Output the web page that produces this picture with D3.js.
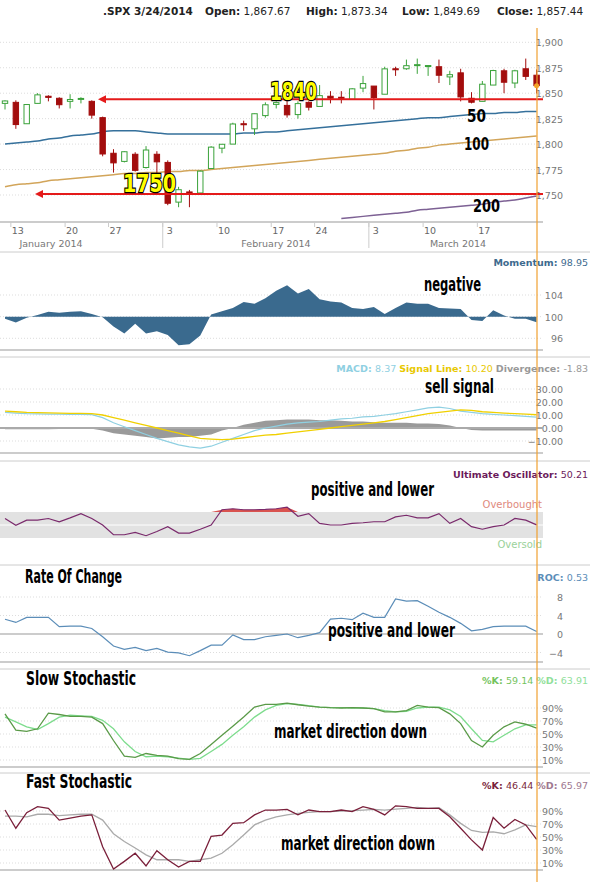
<!DOCTYPE html>
<html><head><meta charset="utf-8">
<script src="https://cdn.jsdelivr.net/npm/d3@7"></script>
<style>
body{margin:0;background:#fff}
svg{font-family:"DejaVu Sans",sans-serif}
.ann{font-family:"DejaVu Sans",sans-serif;font-weight:bold;fill:#000}
</style></head><body>
<div id="chart"></div>
<script>
// DATA (one value per trading day, Jan 10 .. Mar 24 2014)
const dates = ["1/10","1/13","1/14","1/15","1/16","1/17","1/21","1/22","1/23","1/24","1/27","1/28","1/29","1/30","1/31",
  "2/3","2/4","2/5","2/6","2/7","2/10","2/11","2/12","2/13","2/14","2/18","2/19","2/20","2/21","2/24","2/25","2/26","2/27","2/28",
  "3/3","3/4","3/5","3/6","3/7","3/10","3/11","3/12","3/13","3/14","3/17","3/18","3/19","3/20","3/21","3/24"]
const open  = [1840,1841,1820,1840,1847,1845,1842,1844,1842,1826,1791,1783,1790,1777,1790,1782,1743,1753,1752,1776,1796,1800,1820,1815,1828,1839,1838,1829,1841,1837,1847,1846,1844,1855,1857,1849,1874,1874,1878,1877,1876,1866,1870,1845,1842,1858,1872,1860,1874,1867.67]
const high  = [1843,1843,1839,1850,1848,1846,1849,1846,1843,1827,1795,1793,1792,1798,1793,1784,1758,1755,1774,1798,1800,1821,1823,1830,1841,1842,1847,1842,1842,1858,1852,1852,1855,1867,1857,1876,1876,1883,1884,1877,1883,1872,1874,1851,1862,1873,1874,1873,1884,1873.34]
const low   = [1834,1815,1820,1840,1842,1835,1835,1840,1825,1788,1772,1782,1773,1776,1768,1740,1738,1738,1750,1776,1791,1800,1813,1809,1826,1835,1826,1825,1833,1837,1840,1840,1844,1851,1834,1849,1867,1873,1869,1867,1860,1858,1842,1840,1842,1858,1850,1855,1863,1849.69]
const close = [1842.37,1819.20,1838.88,1848.38,1845.89,1838.70,1843.80,1844.86,1828.46,1790.29,1781.56,1792.50,1774.20,1794.19,1782.59,1741.89,1755.20,1751.64,1773.43,1797.02,1799.84,1819.75,1819.26,1829.83,1838.63,1840.76,1828.75,1839.78,1836.25,1847.61,1845.12,1845.16,1854.29,1859.45,1845.73,1873.91,1873.81,1877.03,1878.04,1877.17,1867.63,1868.20,1846.34,1841.13,1858.83,1872.25,1860.77,1872.01,1866.52,1857.44]
const ma50  = [1800,1801,1802,1803,1805,1806,1808,1809,1810,1812,1813,1813,1813,1812,1811,1810,1810,1810,1810,1810,1810,1810,1811,1811,1812,1812,1813,1814,1815,1816,1817,1818,1819,1820,1821,1822,1823,1824,1825,1826,1826,1827,1828,1829,1830,1830,1831,1831,1832,1832]
const ma100 = [1758,1760,1761,1762,1764,1765,1766,1767,1768,1769,1770,1771,1771,1772,1772,1773,1773,1774,1774,1775,1776,1777,1778,1779,1780,1781,1782,1783,1784,1785,1786,1787,1788,1789,1790,1791,1793,1794,1796,1797,1799,1800,1801,1802,1803,1804,1805,1806,1807,1808]
const ma200 = [null,null,null,null,null,null,null,null,null,null,null,null,null,null,null,null,null,null,null,null,null,null,null,null,null,null,null,null,null,null,null,1727,1728,1729,1730,1731,1732,1733,1735,1736,1737,1738,1739,1740,1741,1743,1744,1745,1747,1749]
const momentum = [99.6,98.9,99.8,100.3,100.9,100.7,100.9,101,100.5,99.9,98.2,96.9,98.7,96.9,97.3,96.6,94.7,94.9,96.5,100.4,101,101.6,102.7,102.4,103.4,104.8,105.8,104.3,105.1,103.2,102.8,102.6,101.6,101.4,101.8,100.5,101.6,102.6,102.4,102.4,101.6,101.5,101.4,99.4,99.2,101.2,100.2,99.6,99.6,98.95]
const macd   = [12,11.5,11,10.8,10.7,10.6,10.5,10.5,10.3,8,4,1,-2,-5,-8,-10.5,-13,-14.5,-15.5,-14,-11,-8,-5,-2,0,1.5,3,4,4.5,5,6,7,7.5,8.5,9,10,11,12.5,14,15.5,16,15,13,12,11,10.5,10,9.5,9,8.37]
const signal = [13,12.5,12,11.8,11.6,11.5,11.3,11.2,11,10,8,6,4,2,0,-2,-4,-6,-8,-8.5,-9,-8.5,-7.5,-6.5,-5.5,-5,-4,-3,-2,-1,0,1,2,3,4,5,6.5,8,9.5,11,12,13,14,13.5,12.5,12,11.5,11,10.6,10.2]
const diverg = [-1,-1,-1,-1,-1,-0.8,-0.5,-0.5,-0.5,-2,-4,-5,-6,-7,-8,-7.5,-7,-7,-6,-5,-2,0,2.5,4,5.5,6,6.5,6.5,6.5,6,6,5.5,5,5,4.5,4,4,4,3.5,3.5,3,2,0,-1.5,-2,-2,-2,-2,-1.9,-1.83]
const ultimate = [60,49.5,57.5,57.5,60,55,61,67.5,60,50,35,35,38.5,33.5,40,47.5,37.5,37.5,43.5,50,73.5,75,73.5,73.5,74,75,77.5,63.5,67.5,52.5,50,50,52.5,53.5,55,55,62.5,65,61,61,67.5,52.5,60,47.5,43.5,47.5,50,60,57.5,50.21]
const roc = [3.2,2.5,3.6,3.6,3.6,1.6,1.7,1.7,1.2,-0.6,-2.6,-3.3,-2.9,-3.6,-3.1,-3.9,-4.1,-4.7,-3.6,-2.4,-2.4,-0.2,-1.2,-1.2,-0.6,-0.3,0,-0.8,-0.3,0.3,3.2,3.4,3.1,4.5,3.6,3.6,7.6,7.1,7.2,6,4.7,3.6,2.3,0.7,1,1.6,1.7,1.7,1.7,0.53]
const slowK = [81,56,54,58,82,80,77,77,76,66,40,16,14,20,17,16,12,11,20,34,48,62,76,91.5,95.6,95.6,97.6,95,93,91.5,90.5,90,90.5,90,89,84,84,86,94,91.5,90.5,81,66,40,30,48,61,68.6,65,59.14]
const slowD = [76,68.6,61,57,66,76,79,78,77,71,58,38,23,15,16,15,13,11,12.5,23,34,48,61,76,87,94,96.6,95.6,93.6,91.5,90.5,90.5,90,90,89,86,84,85,90,91.5,91.5,87,77,58,40,38,48,58,64,63.91]
const fastK = [91.5,63.5,87.5,96.6,94,76,79,82,84,35,0.7,12.5,25,5.6,29,15,3.8,12.5,12.5,51,53,71,72,84,91.5,91.5,92.5,84,91.5,89,89,91.5,89,96.6,92.5,84,98,96.6,94,94,94,81,63.5,45.6,30,80,63.5,77,68.6,46.44]
const fastD = [82,82,81,85,85,83,84,85,85,76,55,43,33,22.6,15,15,15,12.5,15,17.6,25,38,53,68.6,76,81,84,86.4,88,89,89,90,90.5,91.5,92.5,91.5,93,94,95.6,94,95,84,71,60,57,58,55,61,68.6,65.97]
const dayTicks = [{i:1,t:"13"},{i:6,t:"20"},{i:10,t:"27"},{i:15,t:"3"},{i:20,t:"10"},{i:25,t:"17"},{i:29,t:"24"},{i:34,t:"3"},{i:39,t:"10"},{i:44,t:"17"}]
const months = [{t:"January 2014",x:51},{t:"February 2014",x:276},{t:"March 2014",x:458}]

const W = 590, H = 882, plotR = 543, nowX = 537
const svg = d3.select("#chart").append("svg").attr("width", W).attr("height", H)
const x = d3.scaleLinear().domain([0, dates.length - 1]).range([5, 536.6])
const idx = dates.map((d, i) => i)

// helper for grid + right axis of a panel
function panel(y, ticks, fmt, top, bottom){
  const g = svg.append("g")
  ticks.forEach(t => {
    g.append("line").attr("x1", 0).attr("x2", plotR).attr("y1", y(t)).attr("y2", y(t))
      .attr("stroke", "#ddd").attr("stroke-dasharray", "1,2")
    g.append("text").attr("x", 563).attr("y", y(t) + 4).attr("text-anchor", "end")
      .attr("font-size", 9.5).attr("fill", "#777").text(fmt(t))
  })
  g.append("line").attr("x1", 0).attr("x2", plotR).attr("y1", bottom).attr("y2", bottom).attr("stroke", "#ccc").attr("stroke-width", 2)
  return g
}
function sep(y){ svg.append("line").attr("x1", 0).attr("x2", W).attr("y1", y).attr("y2", y).attr("stroke", "#ccc") }
function legend(y, parts){
  const t = svg.append("text").attr("x", 588).attr("y", y).attr("text-anchor", "end").attr("font-size", 9.5)
  parts.forEach(p => t.append("tspan").attr("fill", p[1]).attr("font-weight", p[2] ? "bold" : null).text(p[0]))
}
// condensed bold labels: squeeze to the width measured on the picture
function ann(txt, x0, cy, size, w, anchor){
  return svg.append("text").attr("class", "ann").attr("x", x0).attr("y", cy).attr("text-anchor", anchor || "start")
    .attr("font-size", size).attr("textLength", w).attr("lengthAdjust", "spacingAndGlyphs").text(txt)
}
function line(y, vals, color, w){
  svg.append("path").datum(idx.filter(i => vals[i] != null))
    .attr("d", d3.line().x(i => x(i)).y(i => y(vals[i])))
    .attr("fill", "none").attr("stroke", color).attr("stroke-width", w || 1.2)
}

// HEADER
const hdr = svg.append("text").attr("y", 15).attr("font-size", 10.5).attr("fill", "#222")
;[[".SPX 3/24/2014",103],["Open:",205,"1,867.67"],["High:",306,"1,873.34"],["Low:",402,"1,849.69"],["Close:",497,"1,857.44"]].forEach(h => {
  hdr.append("tspan").attr("x", h[1]).attr("font-weight", "bold").text(h[0])
  if (h[2]) hdr.append("tspan").text(" " + h[2])
})

// PRICE PANEL
const yP = d3.scaleLinear().domain([1750, 1900]).range([195, 42.3])
panel(yP, [1750,1775,1800,1825,1850,1875,1900], d3.format(",.0f"), 30, 222)
svg.append("defs").append("clipPath").attr("id", "pc").append("rect").attr("x", 0).attr("y", 30).attr("width", plotR).attr("height", 192)
const pg = svg.append("g").attr("clip-path", "url(#pc)")
;[[ma50,"#35709b"],[ma100,"#d2a55a"],[ma200,"#7d6194"]].forEach(m => {
  pg.append("path").datum(idx.filter(i => m[0][i] != null))
    .attr("d", d3.line().curve(d3.curveMonotoneX).x(i => x(i)).y(i => yP(m[0][i])))
    .attr("fill", "none").attr("stroke", m[1]).attr("stroke-width", 1.5)
})
idx.forEach(i => {
  const up = close[i] >= open[i], col = up ? "#3aa23a" : "#a30d0d"
  pg.append("line").attr("x1", x(i)).attr("x2", x(i)).attr("y1", yP(high[i])).attr("y2", yP(low[i])).attr("stroke", col)
  const top = yP(Math.max(open[i], close[i])), h = Math.max(1, Math.abs(yP(open[i]) - yP(close[i])))
  pg.append("rect").attr("x", x(i) - 2.7).attr("y", top).attr("width", 5.4).attr("height", h)
    .attr("fill", up ? "#fff" : col).attr("stroke", col)
})
svg.append("circle").attr("cx", x(49)).attr("cy", yP(close[49])).attr("r", 2.5).attr("fill", "#f5a623")
// support lines
;[[1844,98,"1840",270,100,47],[1751,35,"1750",123,192,53]].forEach(s => {
  svg.append("line").attr("x1", s[1] + 6).attr("x2", plotR).attr("y1", yP(s[0])).attr("y2", yP(s[0])).attr("stroke", "#e41a1a").attr("stroke-width", 2)
  svg.append("path").attr("d", `M${s[1]},${yP(s[0])} l8,-4 l0,8 z`).attr("fill", "#e41a1a")
  ann(s[2], s[3], s[4], 25, s[5]).style("fill", "#ffff00").attr("stroke", "#000").attr("stroke-width", 2.5).attr("paint-order", "stroke")
})
ann("50", 467, 122, 17, 19); ann("100", 464, 150, 17, 25); ann("200", 473, 212, 17, 27)
// date axis
dayTicks.forEach(d => {
  svg.append("line").attr("x1", x(d.i) - 5).attr("x2", x(d.i) - 5).attr("y1", 222).attr("y2", 227).attr("stroke", "#ccc")
  svg.append("text").attr("x", x(d.i) + 2).attr("y", 234).attr("text-anchor", "middle").attr("font-size", 9.5).attr("fill", "#666").text(d.t)
})
;[x(15) - 5, x(34) - 5].forEach(v => svg.append("line").attr("x1", v).attr("x2", v).attr("y1", 222).attr("y2", 248).attr("stroke", "#ccc"))
months.forEach(m => svg.append("text").attr("x", m.x).attr("y", 247).attr("text-anchor", "middle").attr("font-size", 9.5).attr("fill", "#777").text(m.t))
sep(252)

// MOMENTUM
const yM = d3.scaleLinear().domain([96, 104]).range([338.3, 295])
panel(yM, [96,100,104], d3.format("d"), 283, 350)
legend(266, [["Momentum: ","#3d6a8e",1],["98.95","#3d6a8e"]])
svg.append("path").datum(idx).attr("d", d3.area().x(i => x(i)).y0(yM(100)).y1(i => yM(momentum[i])))
  .attr("fill", "#3a6a8e")
ann("negative", 424, 291, 19, 57)
sep(357)

// MACD
const yC = d3.scaleLinear().domain([-10, 30]).range([441, 389])
panel(yC, [-10,0,10,20,30], d3.format(".2f"), 383, 453)
legend(372, [["MACD: ","#8fd0e2",1],["8.37  ","#8fd0e2"],["Signal Line: ","#e8c800",1],["10.20  ","#e8c800"],["Divergence: ","#999",1],["-1.83","#999"]])
svg.append("path").datum(idx).attr("d", d3.area().x(i => x(i)).y0(yC(0)).y1(i => yC(diverg[i]))).attr("fill", "#9a9a9a")
svg.append("line").attr("x1", 0).attr("x2", plotR).attr("y1", yC(0)).attr("y2", yC(0)).attr("stroke", "#aaa").attr("stroke-width", 2)
line(yC, macd, "#8fd0e2", 1.2)
line(yC, signal, "#f0d000", 1.3)
ann("sell signal", 425, 393, 19, 69)
sep(461)

// ULTIMATE OSCILLATOR
const yU = d3.scaleLinear().domain([30, 70]).range([538, 512])
svg.append("rect").attr("x", 0).attr("y", yU(70)).attr("width", plotR).attr("height", yU(30) - yU(70)).attr("fill", "#e2e2e2")
svg.append("line").attr("x1", 0).attr("x2", plotR).attr("y1", yU(50)).attr("y2", yU(50)).attr("stroke", "#fff")
legend(478, [["Ultimate Oscillator: ","#6b1a5a",1],["50.21","#6b1a5a"]])
svg.append("path").datum(idx).attr("d", d3.area().x(i => x(i)).y0(yU(70)).y1(i => yU(Math.max(70, ultimate[i])))).attr("fill", "#d9534f")
line(yU, ultimate, "#7a2a6c", 1.2)
svg.append("text").attr("x", 542).attr("y", 508).attr("text-anchor", "end").attr("font-size", 10).attr("fill", "#e08a80").text("Overbought")
svg.append("text").attr("x", 542).attr("y", 548).attr("text-anchor", "end").attr("font-size", 10).attr("fill", "#9ad19a").text("Oversold")
ann("positive and lower", 311, 496, 19, 123)
sep(565)

// RATE OF CHANGE
const yR = d3.scaleLinear().domain([-4, 8]).range([652.5, 597])
panel(yR, [-4,0,4,8], d3.format("d"), 590, 662)
svg.append("line").attr("x1", 0).attr("x2", plotR).attr("y1", yR(0)).attr("y2", yR(0)).attr("stroke", "#ccc").attr("stroke-width", 2)
legend(581, [["ROC: ","#5b8db8",1],["0.53","#5b8db8"]])
ann("Rate Of Change", 25, 583, 19, 97)
line(yR, roc, "#5b8db8", 1.2)
ann("positive  and lower", 328, 637, 19, 127)
sep(669)

// SLOW STOCHASTIC
const yS = d3.scaleLinear().domain([10, 90]).range([760, 708])
panel(yS, [10,30,50,70,90], v => v + "%", 700, 767)
legend(684, [["%K: ","#74c35d",1],["59.14  ","#74c35d"],["%D: ","#8fe09a",1],["63.91","#8fe09a"]])
ann("Slow Stochastic", 26, 685, 19, 110)
line(yS, slowD, "#7ddc8d", 1.3)
line(yS, slowK, "#5a9a48", 1.3)
ann("market direction down", 274, 738, 19, 153)
sep(773)

// FAST STOCHASTIC
const yF = d3.scaleLinear().domain([10, 90]).range([863, 811])
panel(yF, [10,30,50,70,90], v => v + "%", 803, 870)
legend(789, [["%K: ","#7a1f3a",1],["46.44  ","#7a1f3a"],["%D: ","#a07890",1],["65.97","#a07890"]])
ann("Fast Stochastic", 26, 788, 19, 106)
line(yF, fastD, "#aaa", 1.3)
line(yF, fastK, "#7a1f3a", 1.3)
ann("market direction down", 281, 850, 19, 154)

// current day marker
svg.append("line").attr("x1", nowX).attr("x2", nowX).attr("y1", 28).attr("y2", H).attr("stroke", "#f0a030").attr("stroke-width", 1.2)
</script></body></html>
